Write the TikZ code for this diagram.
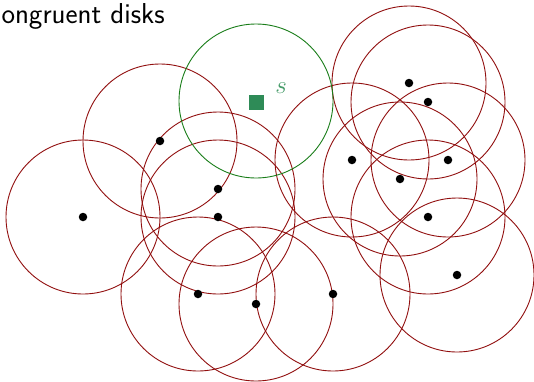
\documentclass[tikz,border=0pt]{standalone}
\usetikzlibrary{calc}
\definecolor{diskred}{RGB}{145,15,15}
\definecolor{diskgreen}{RGB}{25,125,25}
\definecolor{sqgreen}{RGB}{46,139,87}
\definecolor{sgreen}{RGB}{70,155,105}
\tikzset{
  disk/.style={draw=diskred, line width=0.9pt},
  sdisk/.style={draw=diskgreen, line width=0.9pt},
  pt/.style={circle, fill=black, inner sep=0pt, minimum size=8.5pt},
  sq/.style={fill=sqgreen, inner sep=0pt, minimum size=15pt},
}
\begin{document}
\begin{tikzpicture}[x=1pt,y=-1pt]
\useasboundingbox (0,0) rectangle (534,381);
\node[anchor=base west, inner sep=0pt, font=\sffamily\fontsize{28.8}{32}\selectfont] (title) at (-16,23) {Congruent disks};
\foreach \x/\y [count=\i] in {83/217,160/141,218/189,218/217,198/294,256/304,333/294,409/83,428/102,352/160,448/160,400/179,428/217,457/275}{
  \draw[disk] (\x,\y) circle (77);
}
\draw[sdisk] (256,101) circle (77);
\foreach \x/\y [count=\i] in {83/217,160/141,218/189,218/217,198/294,256/304,333/294,409/83,428/102,352/160,448/160,400/179,428/217,457/275}{
  \node[pt] (p\i) at (\x,\y) {};
}
\node[sq] (s) at (256,102) {};
\node[text=sgreen, font=\fontsize{30}{32}\selectfont] (slabel) at (281,88) {$s$};
\end{tikzpicture}
\end{document}
